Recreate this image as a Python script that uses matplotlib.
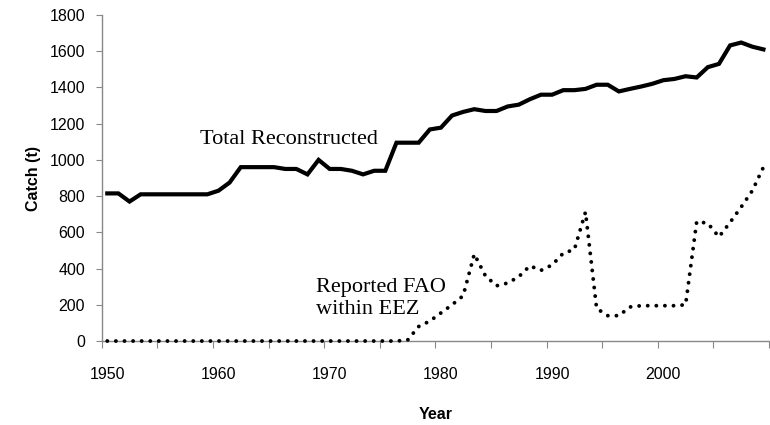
import numpy as np
import matplotlib
matplotlib.use('Agg')
import matplotlib.pyplot as plt

years = list(range(1950, 2010))

total = [815, 815, 770, 810, 810, 810, 810, 810, 810, 810,
         830, 875, 960, 960, 960, 960, 950, 950, 920, 1000,
         950, 950, 940, 920, 940, 940, 1095, 1095, 1095, 1168,
         1178, 1245, 1265, 1280, 1270, 1270, 1295, 1305, 1335, 1360,
         1360, 1385, 1385, 1392, 1415, 1415, 1378, 1392, 1405, 1420,
         1440, 1447, 1462, 1455, 1512, 1530, 1632, 1648, 1625, 1610]

fao = [0, 0, 0, 0, 0, 0, 0, 0, 0, 0,
       0, 0, 0, 0, 0, 0, 0, 0, 0, 0,
       0, 0, 0, 0, 0, 0, 0, 5, 80, 110,
       155, 200, 250, 480, 360, 305, 320, 355, 415, 390,
       420, 485, 505, 712, 180, 140, 140, 188, 195, 195,
       195, 195, 200, 660, 650, 575, 655, 740, 830, 960]

yticks = [0, 200, 400, 600, 800, 1000, 1200, 1400, 1600, 1800]
xlabels = [1950, 1960, 1970, 1980, 1990, 2000]

fig = plt.figure(figsize=(7.7, 4.25), dpi=100)
ax = fig.add_axes([0.1321, 0.1976, 0.8666, 0.7671])

ax.plot(years, total, color='black', linewidth=3.0, solid_joinstyle='miter')
ax.plot(years, fao, color='black', linewidth=2.8, linestyle=(0, (0.01, 2.2)),
        dash_capstyle='round', clip_on=False, zorder=3)

ax.set_xlim(1949.5, 2009.5)
ax.set_ylim(0, 1800)

ax.set_yticks(yticks)
ax.set_xticks(np.arange(1949.5, 2010, 5))
ax.set_xticklabels([])
ax.set_xticks(xlabels, minor=True)
ax.set_xticklabels([str(x) for x in xlabels], minor=True)

for s in ['top', 'right']:
    ax.spines[s].set_visible(False)
for s in ['left', 'bottom']:
    ax.spines[s].set_color('#888888')
    ax.spines[s].set_linewidth(1.0)

ax.tick_params(axis='y', which='major', direction='out', length=4, color='#888888',
               labelsize=11.5, pad=8)
ax.tick_params(axis='x', which='major', direction='out', length=5, color='#888888')
ax.tick_params(axis='x', which='minor', length=0, labelsize=11.5, pad=19)
for lab in ax.get_yticklabels() + ax.get_xticklabels(minor=True):
    lab.set_family('Liberation Sans')

ax.set_ylabel('Catch (t)', fontsize=11.5, fontweight='bold', family='Liberation Sans', labelpad=6)
ax.set_xlabel('Year', fontsize=11.5, fontweight='bold', family='Liberation Sans', labelpad=18)

ax.text(1958.3, 1110, 'Total Reconstructed', fontsize=16, family='Liberation Serif',
        ha='left', va='center')
ax.text(1968.8, 235, 'Reported FAO\nwithin EEZ', fontsize=16, family='Liberation Serif',
        ha='left', va='center', linespacing=1.2)

fig.savefig('out.png', dpi=100)
